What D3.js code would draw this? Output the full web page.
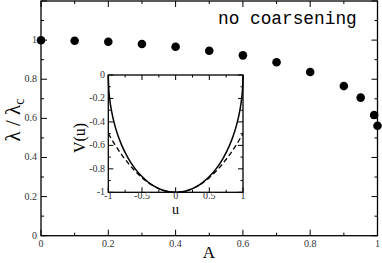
<!DOCTYPE html>
<html>
<head>
<meta charset="utf-8">
<script src="https://cdn.jsdelivr.net/npm/d3@7"></script>
<style>
  body { margin: 0; background: #fff; }
  svg { display: block; }
</style>
</head>
<body>
<script>
// main data: lambda / lambda_c vs A
const aValues = [0, 0.1, 0.2, 0.3, 0.4, 0.5, 0.6, 0.7, 0.8, 0.9, 0.95, 0.99, 1.0];
const ratio = [0.999, 0.997, 0.992, 0.980, 0.966, 0.946, 0.922, 0.887, 0.837, 0.765, 0.706, 0.617, 0.562];
const xTickLabels = ["0", "0.2", "0.4", "0.6", "0.8", "1"];
const yTickLabels = ["0", "0.2", "0.4", "0.6", "0.8", "1"];

// inset data: potential V(u)
const uSolid = [-1, -0.995, -0.98, -0.95, -0.9, -0.85, -0.8, -0.7, -0.6, -0.5, -0.4, -0.3, -0.2, -0.1, 0,
                0.1, 0.2, 0.3, 0.4, 0.5, 0.6, 0.7, 0.8, 0.85, 0.9, 0.95, 0.98, 0.995, 1];
const vSolid = [0, -0.100, -0.199, -0.312, -0.436, -0.527, -0.600, -0.714, -0.800, -0.866, -0.917, -0.954, -0.980, -0.995, -1,
                -0.995, -0.980, -0.954, -0.917, -0.866, -0.800, -0.714, -0.600, -0.527, -0.436, -0.312, -0.199, -0.100, 0];
const uDashed = [-1, -0.9, -0.8, -0.7, -0.6, -0.5, -0.4, -0.3, -0.2, -0.1, 0, 0.1, 0.2, 0.3, 0.4, 0.5, 0.6, 0.7, 0.8, 0.9, 1];
const vDashed = [-0.5, -0.595, -0.68, -0.755, -0.82, -0.875, -0.92, -0.955, -0.98, -0.995, -1,
                 -0.995, -0.98, -0.955, -0.92, -0.875, -0.82, -0.755, -0.68, -0.595, -0.5];
const uTickLabels = ["-1", "-0.5", "0", "0.5", "1"];
const vTickLabels = ["0", "-0.2", "-0.4", "-0.6", "-0.8", "-1"];

const width = 382, height = 263;
const serif = "'Liberation Serif', 'Times New Roman', Times, serif";

const svg = d3.select("body").append("svg")
  .attr("width", width)
  .attr("height", height)
  .attr("font-family", serif);

// framed box with inward ticks on all four sides
function frame(g, x, y, xMajor, xMinor, yMajor, yMinor, majLen, minLen) {
  const [x0, x1] = x.range();
  const [y0, y1] = y.range(); // y0 bottom, y1 top
  g.append("rect")
    .attr("x", x0).attr("y", y1)
    .attr("width", x1 - x0).attr("height", y0 - y1)
    .attr("fill", "none").attr("stroke", "#000").attr("stroke-width", 1.3);
  const tk = g.append("g").attr("stroke", "#000").attr("stroke-width", 1);
  const xt = xMajor.map(v => [v, majLen]).concat(xMinor.map(v => [v, minLen]));
  const yt = yMajor.map(v => [v, majLen]).concat(yMinor.map(v => [v, minLen]));
  xt.forEach(([v, l]) => {
    tk.append("line").attr("x1", x(v)).attr("x2", x(v)).attr("y1", y0).attr("y2", y0 - l);
    tk.append("line").attr("x1", x(v)).attr("x2", x(v)).attr("y1", y1).attr("y2", y1 + l);
  });
  yt.forEach(([v, l]) => {
    tk.append("line").attr("y1", y(v)).attr("y2", y(v)).attr("x1", x0).attr("x2", x0 + l);
    tk.append("line").attr("y1", y(v)).attr("y2", y(v)).attr("x1", x1).attr("x2", x1 - l);
  });
}

// ---- main plot ----
const x = d3.scaleLinear().domain([0, 1]).range([41, 377.5]);
const y = d3.scaleLinear().domain([0, 1.2]).range([235.7, 1]);

const main = svg.append("g");
frame(main, x, y,
  d3.range(0, 1.01, 0.2), d3.range(0.1, 1, 0.2),
  d3.range(0, 1.21, 0.2), d3.range(0.1, 1.2, 0.2), 6, 3);

main.selectAll(".xl").data(xTickLabels).enter().append("text")
  .attr("x", d => x(+d)).attr("y", 247)
  .attr("text-anchor", "middle").attr("font-size", 10).attr("fill", "#333")
  .text(d => d);

main.selectAll(".yl").data(yTickLabels).enter().append("text")
  .attr("x", 37).attr("y", d => y(+d) + 3)
  .attr("text-anchor", "end").attr("font-size", 10).attr("fill", "#333")
  .text(d => d);

main.selectAll(".dot").data(aValues).enter().append("circle")
  .attr("cx", d => x(d))
  .attr("cy", (d, i) => y(ratio[i]))
  .attr("r", 4.3)
  .attr("fill", "#000");

// axis titles
main.append("text")
  .attr("x", 209).attr("y", 258)
  .attr("text-anchor", "middle").attr("font-size", 17)
  .text("A");

const ylab = main.append("text")
  .attr("transform", "translate(20,120) rotate(-90)")
  .attr("text-anchor", "middle").attr("font-size", 21);
ylab.append("tspan").text("λ / λ");
ylab.append("tspan").attr("font-size", 14).attr("dy", 4).text("c");

main.append("text")
  .attr("x", 218).attr("y", 24)
  .attr("font-family", "'Liberation Mono', 'Courier New', monospace")
  .attr("font-size", 17.8)
  .text("no coarsening");

// ---- inset ----
const xi = d3.scaleLinear().domain([-1, 1]).range([108.3, 243]);
const yi = d3.scaleLinear().domain([-1, 0]).range([192.3, 75]);

const inset = svg.append("g");
inset.append("rect")
  .attr("x", 108.3).attr("y", 75).attr("width", 243 - 108.3).attr("height", 192.3 - 75)
  .attr("fill", "#fff");

const line = (us, vs) => d3.line()
  .x(d => xi(d))
  .y((d, i) => yi(vs[i]))
  .curve(d3.curveMonotoneX)(us);

inset.append("path")
  .attr("d", line(uSolid, vSolid))
  .attr("fill", "none").attr("stroke", "#000").attr("stroke-width", 1.5);

inset.append("path")
  .attr("d", line(uDashed, vDashed))
  .attr("fill", "none").attr("stroke", "#000").attr("stroke-width", 1.3)
  .attr("stroke-dasharray", "5,3");

frame(inset, xi, yi,
  d3.range(-1, 1.01, 0.5), d3.range(-0.75, 1, 0.5),
  d3.range(-1, 0.01, 0.2), d3.range(-0.9, 0, 0.2), 5, 2.5);

inset.selectAll(".ul").data(uTickLabels).enter().append("text")
  .attr("x", d => xi(+d)).attr("y", 199)
  .attr("text-anchor", "middle").attr("font-size", 10).attr("fill", "#333")
  .text(d => d);

inset.selectAll(".vl").data(vTickLabels).enter().append("text")
  .attr("x", 105).attr("y", d => yi(+d) + 3)
  .attr("text-anchor", "end").attr("font-size", 10).attr("fill", "#333")
  .text(d => d);

inset.append("text")
  .attr("x", 175.5).attr("y", 214)
  .attr("text-anchor", "middle").attr("font-size", 14)
  .text("u");

inset.append("text")
  .attr("transform", "translate(85,138) rotate(-90)")
  .attr("text-anchor", "middle").attr("font-size", 16)
  .text("V(u)");
</script>
</body>
</html>
